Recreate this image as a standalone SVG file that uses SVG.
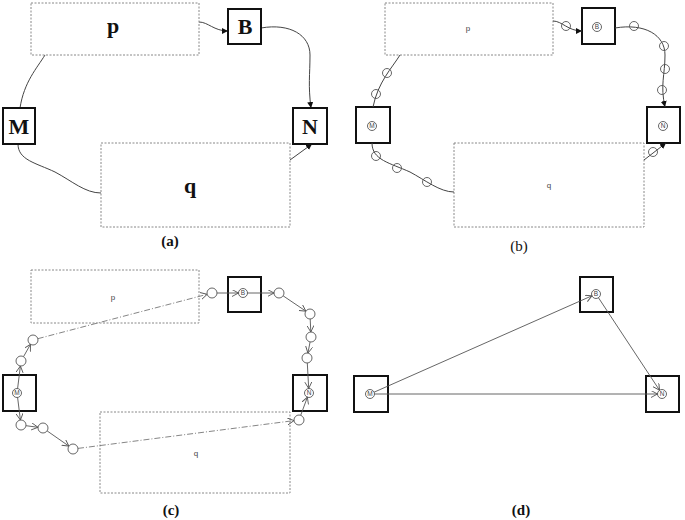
<svg xmlns="http://www.w3.org/2000/svg" width="685" height="520" viewBox="0 0 685 520">
<style>
.bg{fill:#fff}
.sq{fill:#fff;stroke:#111;stroke-width:2}
.dz{fill:#fff;stroke:#888;stroke-width:1;stroke-dasharray:2,1.5}
.big{font-family:"Liberation Serif","Times New Roman",Tinos,Times,serif;font-weight:bold;font-size:22px;fill:#111;text-anchor:middle}
.cap{font-family:"Liberation Serif","Times New Roman",Tinos,Times,serif;font-weight:bold;font-size:15px;fill:#111;text-anchor:middle}
.sm{font-family:"Liberation Sans",Arial,sans-serif;font-size:8px;fill:#444;text-anchor:middle}
.cl{font-family:"Liberation Sans",Arial,sans-serif;font-size:6.5px;fill:#444;text-anchor:middle}
.ci{fill:none;stroke:#555;stroke-width:0.9}
.sc{fill:#fff;stroke:#555;stroke-width:0.9}
.oc{fill:none;stroke:#555;stroke-width:0.9}
.cv{fill:none;stroke:#444;stroke-width:1}
.ln{fill:none;stroke:#555;stroke-width:0.9}
.dd{fill:none;stroke:#777;stroke-width:0.9;stroke-dasharray:6,2,1,2}
</style>
<defs>
<marker id="fa" markerWidth="7" markerHeight="7" refX="6" refY="3" orient="auto" markerUnits="userSpaceOnUse">
<path d="M0,0 L6,3 L0,6 Z" fill="#111"/>
</marker>
<marker id="oa" markerWidth="8" markerHeight="8" refX="6.5" refY="3.5" orient="auto" markerUnits="userSpaceOnUse">
<path d="M0,0 L6.5,3.5 L0,7" fill="none" stroke="#555" stroke-width="0.9"/>
</marker>
</defs>
<rect class="bg" x="0" y="0" width="685" height="520"/>

<!-- Panel (a) -->
<g id="conn-a">
<path class="cv" d="M45 55 C37 68,24 82,20 108"/>
<path class="cv" d="M18 144 C18 160,36 163,55 172 C72 181,85 193,101 193"/>
<path class="cv" d="M199 22 C208 22,214 31,228 31" marker-end="url(#fa)"/>
<path class="cv" d="M261 28 C290 23,310 35,310 55 C310 75,308 85,311 108" marker-end="url(#fa)"/>
<path class="cv" d="M290 160 L312 144" marker-end="url(#fa)"/>
</g>
<g id="a-p"><rect class="dz" x="31" y="3" width="168" height="52"/><text class="big" x="113" y="33">p</text></g>
<g id="a-q"><rect class="dz" x="101" y="143" width="189" height="84"/><text class="big" x="190" y="193">q</text></g>
<g id="a-B"><rect class="sq" x="228" y="9" width="33" height="35"/><text class="big" x="245" y="34">B</text></g>
<g id="a-M"><rect class="sq" x="3" y="108" width="32" height="36"/><text class="big" x="19" y="134">M</text></g>
<g id="a-N"><rect class="sq" x="293" y="108" width="34" height="36"/><text class="big" x="310" y="134">N</text></g>
<text class="cap" x="170" y="246">(a)</text>

<!-- Panel (b) -->
<g id="b-p"><rect class="dz" x="385" y="3" width="168" height="52"/><text class="sm" x="468" y="31">p</text></g>
<g id="b-q"><rect class="dz" x="454" y="143" width="190" height="84"/><text class="sm" x="549" y="188">q</text></g>
<g id="b-B"><rect class="sq" x="582" y="8" width="33" height="36"/><circle class="ci" cx="597" cy="27" r="4.5"/><text class="cl" x="597" y="29.3">B</text></g>
<g id="b-M"><rect class="sq" x="356" y="107" width="34" height="36"/><circle class="ci" cx="372" cy="126" r="4.5"/><text class="cl" x="372" y="128.3">M</text></g>
<g id="b-N"><rect class="sq" x="647" y="107" width="33" height="36"/><circle class="ci" cx="663" cy="126" r="4.5"/><text class="cl" x="663" y="128.3">N</text></g>
<g id="conn-b">
<path class="cv" d="M400 55 C392 68,378 82,373 107"/>
<path class="cv" d="M372 143 C372 160,390 163,410 172 C425 180,440 192,454 192"/>
<path class="cv" d="M553 21 C562 21,568 31,582 31" marker-end="url(#fa)"/>
<path class="cv" d="M615 28 C645 23,665 35,665 55 C665 75,660 85,665 107" marker-end="url(#fa)"/>
<path class="cv" d="M644 160 L666 143" marker-end="url(#fa)"/>
<circle class="oc" cx="566" cy="26" r="4.5"/>
<circle class="oc" cx="634" cy="26" r="4.5"/>
<circle class="oc" cx="664" cy="46" r="4.5"/>
<circle class="oc" cx="665" cy="69" r="4.5"/>
<circle class="oc" cx="662" cy="90" r="4.5"/>
<circle class="oc" cx="653" cy="152" r="4.5"/>
<circle class="oc" cx="387" cy="73" r="4.5"/>
<circle class="oc" cx="376" cy="94" r="4.5"/>
<circle class="oc" cx="376" cy="156" r="4.5"/>
<circle class="oc" cx="397" cy="168" r="4.5"/>
<circle class="oc" cx="427" cy="182" r="4.5"/>
</g>
<text class="cap" x="519" y="251" style="font-weight:normal">(b)</text>

<!-- Panel (c) -->
<g id="c-p"><rect class="dz" x="31" y="270" width="168" height="53"/><text class="sm" x="113" y="300">p</text></g>
<g id="c-q"><rect class="dz" x="100" y="412" width="190" height="81"/><text class="sm" x="196" y="456">q</text></g>
<g id="c-B"><rect class="sq" x="228" y="277" width="33" height="35"/><circle class="ci" cx="243" cy="293" r="4.5"/><text class="cl" x="243" y="295.3">B</text></g>
<g id="c-M"><rect class="sq" x="3" y="375" width="33" height="36"/><circle class="ci" cx="17" cy="393" r="4.5"/><text class="cl" x="17" y="395.3">M</text></g>
<g id="c-N"><rect class="sq" x="293" y="375" width="34" height="36"/><circle class="ci" cx="309" cy="393" r="4.5"/><text class="cl" x="309" y="395.3">N</text></g>
<g id="conn-c">
<line class="ln" x1="17.6" y1="388.5" x2="20.4" y2="366" marker-end="url(#oa)"/>
<line class="ln" x1="23.5" y1="356.7" x2="30.5" y2="344.3" marker-end="url(#oa)"/>
<line class="dd" x1="37.8" y1="338.7" x2="207.2" y2="294.3" marker-end="url(#oa)"/>
<line class="ln" x1="217" y1="293" x2="238.5" y2="293" marker-end="url(#oa)"/>
<line class="ln" x1="247.5" y1="293" x2="274" y2="293" marker-end="url(#oa)"/>
<line class="ln" x1="283.1" y1="295.8" x2="305.9" y2="311.2" marker-end="url(#oa)"/>
<line class="ln" x1="310.2" y1="319" x2="310.8" y2="332" marker-end="url(#oa)"/>
<line class="ln" x1="310.1" y1="341.9" x2="307.9" y2="353.1" marker-end="url(#oa)"/>
<line class="ln" x1="307.3" y1="363" x2="308.7" y2="388.5" marker-end="url(#oa)"/>
<line class="ln" x1="17.6" y1="397.5" x2="20.4" y2="420" marker-end="url(#oa)"/>
<line class="ln" x1="26" y1="425.7" x2="38" y2="427.3" marker-end="url(#oa)"/>
<line class="ln" x1="47.1" y1="430.9" x2="68.9" y2="446.1" marker-end="url(#oa)"/>
<line class="dd" x1="78" y1="448.4" x2="294" y2="420.6" marker-end="url(#oa)"/>
<line class="ln" x1="300.7" y1="415.3" x2="307.4" y2="397.2" marker-end="url(#oa)"/>
<circle class="sc" cx="21" cy="361" r="5"/>
<circle class="sc" cx="33" cy="340" r="5"/>
<circle class="sc" cx="212" cy="293" r="5"/>
<circle class="sc" cx="279" cy="293" r="5"/>
<circle class="sc" cx="310" cy="314" r="5"/>
<circle class="sc" cx="311" cy="337" r="5"/>
<circle class="sc" cx="307" cy="358" r="5"/>
<circle class="sc" cx="21" cy="425" r="5"/>
<circle class="sc" cx="43" cy="428" r="5"/>
<circle class="sc" cx="73" cy="449" r="5"/>
<circle class="sc" cx="299" cy="420" r="5"/>
</g>
<text class="cap" x="171" y="515">(c)</text>

<!-- Panel (d) -->
<g id="d-B"><rect class="sq" x="580" y="277" width="33" height="35"/><circle class="ci" cx="596" cy="294" r="4.5"/><text class="cl" x="596" y="296.3">B</text></g>
<g id="d-M"><rect class="sq" x="354" y="376" width="34" height="36"/><circle class="ci" cx="370" cy="394" r="4.5"/><text class="cl" x="370" y="396.3">M</text></g>
<g id="d-N"><rect class="sq" x="646" y="376" width="33" height="36"/><circle class="ci" cx="662" cy="394" r="4.5"/><text class="cl" x="662" y="396.3">N</text></g>
<g id="conn-d">
<line class="ln" x1="374.1" y1="392.2" x2="591.9" y2="295.8" marker-end="url(#oa)"/>
<line class="ln" x1="598.5" y1="297.8" x2="659.5" y2="390.2" marker-end="url(#oa)"/>
<line class="ln" x1="374.5" y1="394" x2="657.5" y2="394" marker-end="url(#oa)"/>
</g>
<text class="cap" x="521" y="515">(d)</text>
</svg>
